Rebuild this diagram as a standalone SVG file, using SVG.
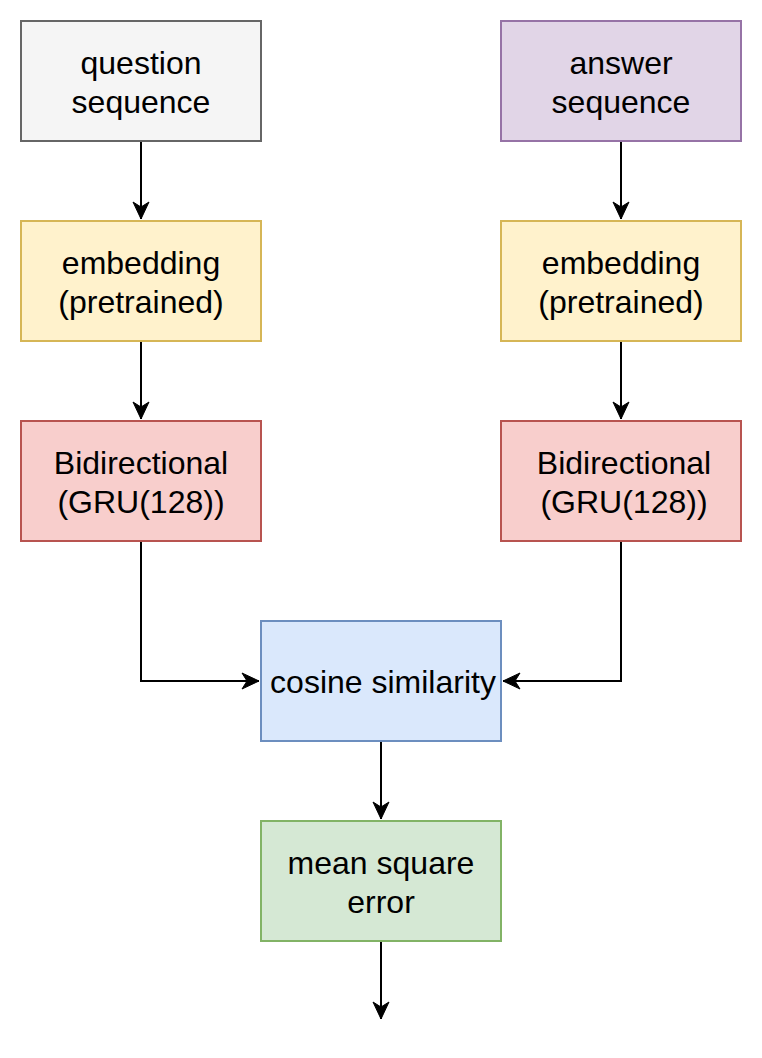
<svg xmlns="http://www.w3.org/2000/svg" width="762" height="1058" viewBox="0 0 762 1058">
<style>
.b{stroke-width:2}
.t{font-family:"Liberation Sans",Arial,sans-serif;font-size:32px;fill:#000;text-anchor:middle}
.gray{fill:#f5f5f5;stroke:#666666}
.purple{fill:#e1d5e7;stroke:#9673a6}
.yellow{fill:#fff2cc;stroke:#d6b656}
.red{fill:#f8cecc;stroke:#b85450}
.blue{fill:#dae8fc;stroke:#6c8ebf}
.green{fill:#d5e8d4;stroke:#82b366}
.e{fill:none;stroke:#000;stroke-width:2;marker-end:url(#a)}
</style>
<defs>
<marker id="a" viewBox="-18 -9 20 18" refX="0" refY="0" markerWidth="20" markerHeight="18" markerUnits="userSpaceOnUse" orient="auto" overflow="visible">
<path d="M0,0 L-17,-8 L-12,0 L-17,8 Z" fill="#000" stroke="#000" stroke-width="1"/>
</marker>
</defs>
<rect width="762" height="1058" fill="#fff"/>
<g id="edges">
<path class="e" d="M141,141 V219"/>
<path class="e" d="M621,141 V219"/>
<path class="e" d="M141,341 V419"/>
<path class="e" d="M621,341 V419"/>
<path class="e" d="M141,541 V681 H259"/>
<path class="e" d="M621,541 V681 H503"/>
<path class="e" d="M381,741 V819"/>
<path class="e" d="M381,941 V1019"/>
</g>
<g id="question"><rect class="b gray" x="21" y="21" width="240" height="120"/><text class="t" x="141" y="74">question</text><text class="t" x="141" y="113">sequence</text></g>
<g id="answer"><rect class="b purple" x="501" y="21" width="240" height="120"/><text class="t" x="621" y="74">answer</text><text class="t" x="621" y="113">sequence</text></g>
<g id="embL"><rect class="b yellow" x="21" y="221" width="240" height="120"/><text class="t" x="141" y="274">embedding</text><text class="t" x="141" y="313">(pretrained)</text></g>
<g id="embR"><rect class="b yellow" x="501" y="221" width="240" height="120"/><text class="t" x="621" y="274">embedding</text><text class="t" x="621" y="313">(pretrained)</text></g>
<g id="gruL"><rect class="b red" x="21" y="421" width="240" height="120"/><text class="t" x="141" y="474">Bidirectional</text><text class="t" x="141" y="513">(GRU(128))</text></g>
<g id="gruR"><rect class="b red" x="501" y="421" width="240" height="120"/><text class="t" x="624" y="474">Bidirectional</text><text class="t" x="624" y="513">(GRU(128))</text></g>
<g id="cos"><rect class="b blue" x="261" y="621" width="240" height="120"/><text class="t" x="383" y="693">cosine similarity</text></g>
<g id="mse"><rect class="b green" x="261" y="821" width="240" height="120"/><text class="t" x="381" y="874">mean square</text><text class="t" x="381" y="913">error</text></g>
</svg>
